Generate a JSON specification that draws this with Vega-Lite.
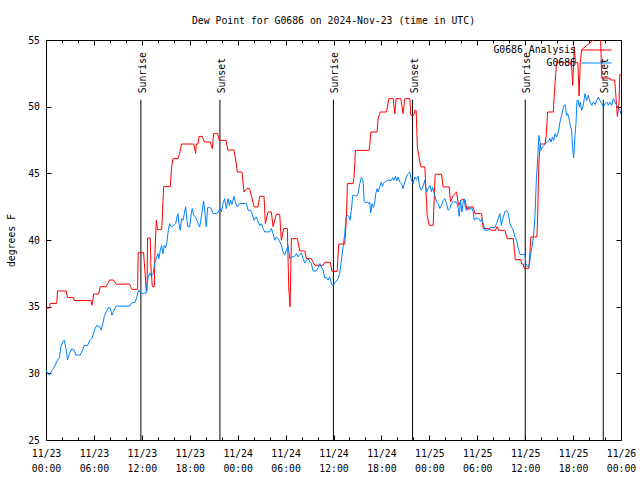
{
  "$schema": "https://vega.github.io/schema/vega-lite/v6.json",
  "width": 575,
  "height": 400,
  "autosize": {"type": "none"},
  "padding": {"left": 46, "top": 40, "right": 19, "bottom": 40},
  "background": "white",
  "config": {
    "view": {"stroke": "black", "strokeWidth": 1},
    "font": "DejaVu Sans Mono",
    "axis": {
      "domain": false,
      "grid": false,
      "ticks": true,
      "zindex": 1,
      "tickColor": "#000000",
      "tickOpacity": 1,
      "tickWidth": 1,
      "labelFont": "DejaVu Sans Mono",
      "labelFontSize": 9.8,
      "labelColor": "black",
      "titleFont": "DejaVu Sans Mono",
      "titleFontSize": 9.8,
      "titleFontWeight": "normal",
      "titleColor": "black"
    }
  },
  "title": {
    "text": "Dew Point for G0686 on 2024-Nov-23 (time in UTC)",
    "font": "DejaVu Sans Mono",
    "fontSize": 9.8,
    "fontWeight": "normal",
    "color": "black",
    "anchor": "middle",
    "offset": 1,
    "baseline": "alphabetic"
  },
  "datasets": {
    "analysis": [
      {"hours":0,"dewpoint":34.9},{"hours":0.45,"dewpoint":34.9},{"hours":0.52,"dewpoint":35.24},{"hours":1.35,"dewpoint":35.24},{"hours":1.44,"dewpoint":36.18},{"hours":2.53,"dewpoint":36.18},{"hours":2.7,"dewpoint":35.69},{"hours":3.45,"dewpoint":35.69},{"hours":3.53,"dewpoint":35.46},{"hours":5.62,"dewpoint":35.46},{"hours":5.79,"dewpoint":35.1},{"hours":5.95,"dewpoint":35.94},{"hours":6.58,"dewpoint":35.94},{"hours":6.79,"dewpoint":36.5},{"hours":7.54,"dewpoint":36.5},{"hours":7.96,"dewpoint":37.0},{"hours":8.46,"dewpoint":37.0},{"hours":8.79,"dewpoint":36.68},{"hours":10.46,"dewpoint":36.7},{"hours":10.76,"dewpoint":36.3},{"hours":11.47,"dewpoint":36.3},{"hours":11.55,"dewpoint":39.05},{"hours":12.22,"dewpoint":39.05},{"hours":12.3,"dewpoint":38.36},{"hours":12.47,"dewpoint":37.0},{"hours":12.55,"dewpoint":36.2},{"hours":12.65,"dewpoint":36.2},{"hours":12.72,"dewpoint":40.15},{"hours":13.05,"dewpoint":40.15},{"hours":13.14,"dewpoint":38.0},{"hours":13.31,"dewpoint":36.5},{"hours":13.56,"dewpoint":36.5},{"hours":13.64,"dewpoint":39.0},{"hours":13.81,"dewpoint":41.48},{"hours":13.97,"dewpoint":40.78},{"hours":14.48,"dewpoint":40.78},{"hours":14.56,"dewpoint":41.6},{"hours":14.73,"dewpoint":44.0},{"hours":15.56,"dewpoint":44.0},{"hours":15.73,"dewpoint":45.47},{"hours":15.9,"dewpoint":46.1},{"hours":16.52,"dewpoint":46.1},{"hours":16.73,"dewpoint":46.5},{"hours":16.98,"dewpoint":47.2},{"hours":18.49,"dewpoint":47.2},{"hours":18.74,"dewpoint":46.5},{"hours":18.82,"dewpoint":47.2},{"hours":19.03,"dewpoint":47.2},{"hours":19.15,"dewpoint":47.77},{"hours":19.57,"dewpoint":47.77},{"hours":19.82,"dewpoint":47.35},{"hours":20.57,"dewpoint":47.35},{"hours":20.83,"dewpoint":46.85},{"hours":20.99,"dewpoint":48.0},{"hours":21.49,"dewpoint":48.0},{"hours":21.7,"dewpoint":47.47},{"hours":22.55,"dewpoint":47.47},{"hours":22.75,"dewpoint":46.75},{"hours":23.54,"dewpoint":46.75},{"hours":23.79,"dewpoint":45.85},{"hours":23.96,"dewpoint":45.1},{"hours":24.54,"dewpoint":45.1},{"hours":24.79,"dewpoint":43.6},{"hours":25.13,"dewpoint":43.85},{"hours":25.5,"dewpoint":43.85},{"hours":25.71,"dewpoint":43.35},{"hours":26.05,"dewpoint":42.48},{"hours":26.55,"dewpoint":42.48},{"hours":26.76,"dewpoint":43.28},{"hours":27.3,"dewpoint":43.28},{"hours":27.47,"dewpoint":41.23},{"hours":27.8,"dewpoint":42.1},{"hours":28.22,"dewpoint":42.1},{"hours":28.43,"dewpoint":41.0},{"hours":28.85,"dewpoint":41.93},{"hours":29.26,"dewpoint":41.93},{"hours":29.47,"dewpoint":39.98},{"hours":29.77,"dewpoint":40.86},{"hours":30.22,"dewpoint":40.86},{"hours":30.39,"dewpoint":36.5},{"hours":30.56,"dewpoint":34.99},{"hours":30.73,"dewpoint":40.1},{"hours":31.48,"dewpoint":40.1},{"hours":31.77,"dewpoint":39.18},{"hours":32.4,"dewpoint":39.18},{"hours":32.61,"dewpoint":38.6},{"hours":33.23,"dewpoint":38.6},{"hours":33.65,"dewpoint":38.1},{"hours":34.7,"dewpoint":38.1},{"hours":34.9,"dewpoint":38.33},{"hours":35.6,"dewpoint":38.33},{"hours":35.82,"dewpoint":37.64},{"hours":36.45,"dewpoint":37.64},{"hours":36.66,"dewpoint":39.7},{"hours":37.41,"dewpoint":39.7},{"hours":37.62,"dewpoint":41.73},{"hours":37.74,"dewpoint":44.23},{"hours":38.45,"dewpoint":44.23},{"hours":38.58,"dewpoint":44.72},{"hours":38.75,"dewpoint":46.72},{"hours":40.42,"dewpoint":46.72},{"hours":40.54,"dewpoint":47.1},{"hours":40.67,"dewpoint":48.1},{"hours":41.46,"dewpoint":48.1},{"hours":41.59,"dewpoint":49.1},{"hours":41.84,"dewpoint":49.6},{"hours":42.63,"dewpoint":49.6},{"hours":42.93,"dewpoint":50.6},{"hours":43.47,"dewpoint":50.6},{"hours":43.68,"dewpoint":49.47},{"hours":43.84,"dewpoint":50.6},{"hours":44.43,"dewpoint":50.6},{"hours":44.72,"dewpoint":49.47},{"hours":44.93,"dewpoint":50.6},{"hours":45.56,"dewpoint":50.6},{"hours":45.68,"dewpoint":49.35},{"hours":46.05,"dewpoint":49.35},{"hours":46.18,"dewpoint":49.72},{"hours":46.35,"dewpoint":49.72},{"hours":46.5,"dewpoint":47.0},{"hours":46.81,"dewpoint":45.85},{"hours":46.94,"dewpoint":45.48},{"hours":47.44,"dewpoint":45.48},{"hours":47.73,"dewpoint":41.85},{"hours":47.98,"dewpoint":41.1},{"hours":48.48,"dewpoint":41.1},{"hours":48.73,"dewpoint":44.93},{"hours":49.53,"dewpoint":44.93},{"hours":49.73,"dewpoint":43.98},{"hours":50.49,"dewpoint":43.98},{"hours":50.65,"dewpoint":42.85},{"hours":50.99,"dewpoint":43.35},{"hours":51.41,"dewpoint":43.6},{"hours":51.66,"dewpoint":42.6},{"hours":52.03,"dewpoint":43.03},{"hours":52.45,"dewpoint":43.03},{"hours":52.74,"dewpoint":42.23},{"hours":53.08,"dewpoint":42.48},{"hours":53.49,"dewpoint":42.48},{"hours":53.7,"dewpoint":41.98},{"hours":54.54,"dewpoint":41.98},{"hours":54.75,"dewpoint":40.86},{"hours":55.37,"dewpoint":40.86},{"hours":55.79,"dewpoint":40.73},{"hours":56.3,"dewpoint":40.73},{"hours":56.42,"dewpoint":40.98},{"hours":56.55,"dewpoint":40.98},{"hours":56.63,"dewpoint":40.73},{"hours":57.46,"dewpoint":40.73},{"hours":57.75,"dewpoint":40.11},{"hours":58.51,"dewpoint":40.11},{"hours":58.76,"dewpoint":38.53},{"hours":59.47,"dewpoint":38.53},{"hours":59.55,"dewpoint":38.2},{"hours":59.76,"dewpoint":38.2},{"hours":59.89,"dewpoint":37.88},{"hours":60.47,"dewpoint":37.88},{"hours":60.72,"dewpoint":40.23},{"hours":61.47,"dewpoint":40.23},{"hours":61.56,"dewpoint":41.73},{"hours":61.72,"dewpoint":45.85},{"hours":61.89,"dewpoint":47.2},{"hours":62.48,"dewpoint":47.2},{"hours":62.64,"dewpoint":47.84},{"hours":62.81,"dewpoint":49.6},{"hours":63.52,"dewpoint":49.6},{"hours":63.6,"dewpoint":50.47},{"hours":63.81,"dewpoint":52.35},{"hours":63.94,"dewpoint":53.34},{"hours":65.61,"dewpoint":53.34},{"hours":65.82,"dewpoint":52.97},{"hours":65.95,"dewpoint":51.6},{"hours":66.07,"dewpoint":53.3},{"hours":66.15,"dewpoint":54.5},{"hours":66.3,"dewpoint":53.3},{"hours":66.6,"dewpoint":53.3},{"hours":66.75,"dewpoint":50.8},{"hours":66.9,"dewpoint":53.3},{"hours":67.07,"dewpoint":54.27},{"hours":69.1,"dewpoint":55.3},{"hours":69.4,"dewpoint":55.8},{"hours":69.6,"dewpoint":52.14},{"hours":70.6,"dewpoint":52.14},{"hours":70.7,"dewpoint":52.0},{"hours":71.2,"dewpoint":52.0},{"hours":71.3,"dewpoint":51.27},{"hours":71.55,"dewpoint":49.27},{"hours":71.75,"dewpoint":50.27},{"hours":71.85,"dewpoint":52.4},{"hours":72.0,"dewpoint":52.4}
    ],
    "observed": [
      {"hours":0.02,"dewpoint":30.24},{"hours":0.19,"dewpoint":30.0},{"hours":0.44,"dewpoint":29.87},{"hours":0.61,"dewpoint":30.1},{"hours":0.86,"dewpoint":30.3},{"hours":1.15,"dewpoint":30.62},{"hours":1.44,"dewpoint":31.0},{"hours":1.69,"dewpoint":31.19},{"hours":1.86,"dewpoint":31.99},{"hours":2.11,"dewpoint":32.36},{"hours":2.28,"dewpoint":32.49},{"hours":2.53,"dewpoint":31.79},{"hours":2.69,"dewpoint":31.0},{"hours":2.94,"dewpoint":31.49},{"hours":3.24,"dewpoint":31.84},{"hours":3.53,"dewpoint":31.74},{"hours":3.74,"dewpoint":31.37},{"hours":4.28,"dewpoint":31.37},{"hours":4.62,"dewpoint":31.79},{"hours":4.78,"dewpoint":32.09},{"hours":5.2,"dewpoint":32.09},{"hours":5.45,"dewpoint":32.44},{"hours":5.74,"dewpoint":32.62},{"hours":5.95,"dewpoint":32.99},{"hours":6.16,"dewpoint":33.37},{"hours":6.37,"dewpoint":33.61},{"hours":6.71,"dewpoint":33.5},{"hours":6.91,"dewpoint":33.24},{"hours":7.12,"dewpoint":33.74},{"hours":7.29,"dewpoint":34.24},{"hours":7.54,"dewpoint":34.61},{"hours":7.83,"dewpoint":34.94},{"hours":8.04,"dewpoint":34.9},{"hours":8.25,"dewpoint":34.36},{"hours":8.54,"dewpoint":34.74},{"hours":8.79,"dewpoint":35.04},{"hours":10.46,"dewpoint":35.04},{"hours":10.76,"dewpoint":35.29},{"hours":11.17,"dewpoint":35.33},{"hours":11.38,"dewpoint":35.74},{"hours":11.59,"dewpoint":36.24},{"hours":11.89,"dewpoint":35.99},{"hours":12.55,"dewpoint":36.02},{"hours":12.64,"dewpoint":36.7},{"hours":12.81,"dewpoint":37.2},{"hours":12.97,"dewpoint":37.53},{"hours":13.18,"dewpoint":37.3},{"hours":13.39,"dewpoint":37.4},{"hours":13.6,"dewpoint":38.23},{"hours":13.81,"dewpoint":38.6},{"hours":14.02,"dewpoint":38.98},{"hours":14.14,"dewpoint":38.6},{"hours":14.31,"dewpoint":39.23},{"hours":14.48,"dewpoint":39.6},{"hours":14.64,"dewpoint":38.98},{"hours":14.81,"dewpoint":39.6},{"hours":14.98,"dewpoint":39.4},{"hours":15.15,"dewpoint":39.86},{"hours":15.31,"dewpoint":40.73},{"hours":15.48,"dewpoint":41.23},{"hours":15.69,"dewpoint":41.0},{"hours":15.9,"dewpoint":41.05},{"hours":16.23,"dewpoint":41.23},{"hours":16.4,"dewpoint":41.73},{"hours":16.52,"dewpoint":41.98},{"hours":16.65,"dewpoint":41.23},{"hours":16.82,"dewpoint":40.73},{"hours":16.98,"dewpoint":41.6},{"hours":17.15,"dewpoint":41.48},{"hours":17.32,"dewpoint":41.98},{"hours":17.48,"dewpoint":42.48},{"hours":17.65,"dewpoint":41.48},{"hours":17.78,"dewpoint":40.98},{"hours":17.99,"dewpoint":40.98},{"hours":18.19,"dewpoint":41.98},{"hours":18.32,"dewpoint":42.36},{"hours":18.49,"dewpoint":41.86},{"hours":18.74,"dewpoint":41.73},{"hours":18.9,"dewpoint":41.48},{"hours":19.07,"dewpoint":41.23},{"hours":19.24,"dewpoint":40.98},{"hours":19.45,"dewpoint":41.73},{"hours":19.57,"dewpoint":42.23},{"hours":19.74,"dewpoint":42.93},{"hours":19.91,"dewpoint":41.98},{"hours":20.07,"dewpoint":40.98},{"hours":20.24,"dewpoint":42.43},{"hours":20.49,"dewpoint":42.43},{"hours":20.7,"dewpoint":42.36},{"hours":20.91,"dewpoint":41.98},{"hours":21.41,"dewpoint":41.98},{"hours":21.66,"dewpoint":42.23},{"hours":21.83,"dewpoint":42.36},{"hours":21.96,"dewpoint":42.1},{"hours":22.16,"dewpoint":42.73},{"hours":22.37,"dewpoint":43.1},{"hours":22.58,"dewpoint":42.36},{"hours":22.79,"dewpoint":43.1},{"hours":22.96,"dewpoint":42.6},{"hours":23.13,"dewpoint":42.98},{"hours":23.29,"dewpoint":42.68},{"hours":23.54,"dewpoint":43.28},{"hours":23.71,"dewpoint":42.85},{"hours":23.96,"dewpoint":42.48},{"hours":24.25,"dewpoint":42.73},{"hours":25.09,"dewpoint":42.73},{"hours":25.3,"dewpoint":42.23},{"hours":25.63,"dewpoint":42.23},{"hours":25.8,"dewpoint":41.98},{"hours":26.05,"dewpoint":41.48},{"hours":26.34,"dewpoint":41.73},{"hours":26.55,"dewpoint":41.36},{"hours":26.76,"dewpoint":41.1},{"hours":26.97,"dewpoint":41.23},{"hours":27.18,"dewpoint":40.86},{"hours":27.39,"dewpoint":40.61},{"hours":28.01,"dewpoint":40.61},{"hours":28.22,"dewpoint":40.86},{"hours":28.43,"dewpoint":40.48},{"hours":28.64,"dewpoint":39.98},{"hours":28.85,"dewpoint":40.23},{"hours":29.06,"dewpoint":40.11},{"hours":29.27,"dewpoint":39.86},{"hours":29.47,"dewpoint":39.6},{"hours":29.68,"dewpoint":39.1},{"hours":29.89,"dewpoint":38.86},{"hours":30.1,"dewpoint":39.23},{"hours":30.31,"dewpoint":39.6},{"hours":30.52,"dewpoint":38.6},{"hours":30.73,"dewpoint":38.73},{"hours":30.94,"dewpoint":38.73},{"hours":31.15,"dewpoint":38.78},{"hours":31.35,"dewpoint":38.98},{"hours":31.56,"dewpoint":38.73},{"hours":31.77,"dewpoint":38.93},{"hours":31.98,"dewpoint":39.03},{"hours":32.19,"dewpoint":38.6},{"hours":32.4,"dewpoint":38.28},{"hours":32.61,"dewpoint":38.48},{"hours":32.82,"dewpoint":38.6},{"hours":33.03,"dewpoint":38.36},{"hours":33.23,"dewpoint":38.23},{"hours":33.44,"dewpoint":37.68},{"hours":33.86,"dewpoint":37.68},{"hours":34.07,"dewpoint":37.93},{"hours":34.28,"dewpoint":38.23},{"hours":34.49,"dewpoint":37.98},{"hours":34.7,"dewpoint":37.73},{"hours":34.9,"dewpoint":37.15},{"hours":35.11,"dewpoint":37.2},{"hours":35.32,"dewpoint":37.0},{"hours":35.53,"dewpoint":37.23},{"hours":35.74,"dewpoint":36.69},{"hours":35.94,"dewpoint":36.55},{"hours":36.15,"dewpoint":36.8},{"hours":36.36,"dewpoint":36.9},{"hours":36.57,"dewpoint":37.1},{"hours":36.78,"dewpoint":37.5},{"hours":36.99,"dewpoint":38.48},{"hours":37.2,"dewpoint":39.48},{"hours":37.41,"dewpoint":40.48},{"hours":37.57,"dewpoint":41.73},{"hours":37.74,"dewpoint":41.85},{"hours":37.91,"dewpoint":41.78},{"hours":38.07,"dewpoint":41.48},{"hours":38.24,"dewpoint":42.23},{"hours":38.41,"dewpoint":43.35},{"hours":38.66,"dewpoint":43.35},{"hours":38.87,"dewpoint":43.28},{"hours":39.08,"dewpoint":43.48},{"hours":39.29,"dewpoint":44.23},{"hours":39.49,"dewpoint":44.68},{"hours":39.7,"dewpoint":44.48},{"hours":39.83,"dewpoint":42.98},{"hours":40.0,"dewpoint":42.78},{"hours":40.25,"dewpoint":42.85},{"hours":40.41,"dewpoint":42.73},{"hours":40.54,"dewpoint":42.85},{"hours":40.66,"dewpoint":42.03},{"hours":40.83,"dewpoint":42.73},{"hours":41.0,"dewpoint":42.43},{"hours":41.17,"dewpoint":42.85},{"hours":41.29,"dewpoint":43.48},{"hours":41.46,"dewpoint":43.85},{"hours":41.58,"dewpoint":43.6},{"hours":41.79,"dewpoint":43.98},{"hours":42.0,"dewpoint":44.35},{"hours":42.13,"dewpoint":44.03},{"hours":42.25,"dewpoint":44.23},{"hours":42.42,"dewpoint":44.35},{"hours":42.84,"dewpoint":44.48},{"hours":43.25,"dewpoint":44.48},{"hours":43.42,"dewpoint":44.68},{"hours":43.59,"dewpoint":44.48},{"hours":43.76,"dewpoint":44.78},{"hours":43.92,"dewpoint":44.43},{"hours":44.09,"dewpoint":44.73},{"hours":44.3,"dewpoint":44.35},{"hours":44.51,"dewpoint":44.23},{"hours":44.72,"dewpoint":43.85},{"hours":44.93,"dewpoint":44.35},{"hours":45.13,"dewpoint":44.73},{"hours":45.34,"dewpoint":44.98},{"hours":45.55,"dewpoint":45.1},{"hours":45.76,"dewpoint":44.48},{"hours":45.97,"dewpoint":44.23},{"hours":46.18,"dewpoint":44.73},{"hours":46.39,"dewpoint":44.53},{"hours":46.6,"dewpoint":44.78},{"hours":46.8,"dewpoint":43.98},{"hours":47.01,"dewpoint":43.73},{"hours":47.22,"dewpoint":44.03},{"hours":47.43,"dewpoint":44.48},{"hours":47.64,"dewpoint":43.6},{"hours":47.85,"dewpoint":43.85},{"hours":48.07,"dewpoint":44.1},{"hours":48.28,"dewpoint":43.6},{"hours":48.4,"dewpoint":43.98},{"hours":48.57,"dewpoint":43.6},{"hours":48.73,"dewpoint":43.23},{"hours":48.9,"dewpoint":42.85},{"hours":49.11,"dewpoint":42.73},{"hours":49.32,"dewpoint":42.36},{"hours":49.53,"dewpoint":42.6},{"hours":49.74,"dewpoint":42.98},{"hours":49.95,"dewpoint":43.1},{"hours":50.15,"dewpoint":42.73},{"hours":50.36,"dewpoint":42.23},{"hours":50.57,"dewpoint":42.36},{"hours":50.78,"dewpoint":42.78},{"hours":50.99,"dewpoint":42.85},{"hours":51.41,"dewpoint":42.85},{"hours":51.62,"dewpoint":42.43},{"hours":51.74,"dewpoint":41.78},{"hours":51.91,"dewpoint":42.98},{"hours":52.08,"dewpoint":42.1},{"hours":52.24,"dewpoint":42.85},{"hours":52.37,"dewpoint":43.1},{"hours":52.49,"dewpoint":42.48},{"hours":52.66,"dewpoint":42.23},{"hours":52.87,"dewpoint":42.53},{"hours":53.08,"dewpoint":42.28},{"hours":53.29,"dewpoint":42.43},{"hours":53.5,"dewpoint":42.1},{"hours":53.62,"dewpoint":41.48},{"hours":53.83,"dewpoint":41.68},{"hours":54.0,"dewpoint":41.6},{"hours":54.21,"dewpoint":41.6},{"hours":54.42,"dewpoint":41.36},{"hours":54.58,"dewpoint":41.6},{"hours":54.75,"dewpoint":41.23},{"hours":54.96,"dewpoint":40.73},{"hours":55.38,"dewpoint":40.73},{"hours":55.59,"dewpoint":40.93},{"hours":56.21,"dewpoint":40.93},{"hours":56.42,"dewpoint":41.23},{"hours":56.63,"dewpoint":41.6},{"hours":56.84,"dewpoint":41.98},{"hours":57.01,"dewpoint":41.1},{"hours":57.26,"dewpoint":41.73},{"hours":57.46,"dewpoint":42.1},{"hours":57.67,"dewpoint":42.23},{"hours":57.88,"dewpoint":41.98},{"hours":58.09,"dewpoint":41.23},{"hours":58.3,"dewpoint":40.98},{"hours":58.51,"dewpoint":40.73},{"hours":58.72,"dewpoint":40.2},{"hours":58.93,"dewpoint":40.0},{"hours":59.14,"dewpoint":39.36},{"hours":59.35,"dewpoint":38.92},{"hours":59.97,"dewpoint":38.92},{"hours":60.1,"dewpoint":38.23},{"hours":60.26,"dewpoint":38.03},{"hours":60.39,"dewpoint":37.98},{"hours":60.56,"dewpoint":38.3},{"hours":60.73,"dewpoint":39.1},{"hours":60.89,"dewpoint":39.6},{"hours":61.06,"dewpoint":40.36},{"hours":61.23,"dewpoint":41.85},{"hours":61.39,"dewpoint":44.35},{"hours":61.56,"dewpoint":46.1},{"hours":61.73,"dewpoint":47.85},{"hours":61.85,"dewpoint":47.35},{"hours":61.98,"dewpoint":46.72},{"hours":62.15,"dewpoint":46.97},{"hours":62.4,"dewpoint":47.1},{"hours":62.65,"dewpoint":47.3},{"hours":62.9,"dewpoint":47.4},{"hours":63.11,"dewpoint":47.6},{"hours":63.23,"dewpoint":47.35},{"hours":63.4,"dewpoint":47.72},{"hours":63.57,"dewpoint":47.47},{"hours":63.73,"dewpoint":47.97},{"hours":63.94,"dewpoint":47.72},{"hours":64.15,"dewpoint":48.1},{"hours":64.36,"dewpoint":48.85},{"hours":64.57,"dewpoint":49.35},{"hours":64.78,"dewpoint":49.97},{"hours":64.99,"dewpoint":50.15},{"hours":65.19,"dewpoint":49.35},{"hours":65.32,"dewpoint":49.47},{"hours":65.49,"dewpoint":49.1},{"hours":65.65,"dewpoint":48.6},{"hours":65.82,"dewpoint":48.22},{"hours":65.95,"dewpoint":46.85},{"hours":66.07,"dewpoint":46.15},{"hours":66.24,"dewpoint":47.85},{"hours":66.36,"dewpoint":48.72},{"hours":66.49,"dewpoint":50.47},{"hours":66.66,"dewpoint":50.47},{"hours":66.78,"dewpoint":49.97},{"hours":66.91,"dewpoint":50.35},{"hours":67.07,"dewpoint":49.72},{"hours":67.28,"dewpoint":50.1},{"hours":67.49,"dewpoint":50.97},{"hours":67.7,"dewpoint":50.47},{"hours":67.91,"dewpoint":50.85},{"hours":68.12,"dewpoint":50.35},{"hours":68.33,"dewpoint":50.1},{"hours":68.54,"dewpoint":50.35},{"hours":68.75,"dewpoint":50.15},{"hours":68.95,"dewpoint":50.47},{"hours":69.16,"dewpoint":50.72},{"hours":69.37,"dewpoint":50.47},{"hours":69.58,"dewpoint":50.22},{"hours":69.79,"dewpoint":49.97},{"hours":70.0,"dewpoint":50.22},{"hours":70.21,"dewpoint":50.35},{"hours":70.42,"dewpoint":50.1},{"hours":70.62,"dewpoint":50.35},{"hours":70.83,"dewpoint":50.1},{"hours":71.04,"dewpoint":50.6},{"hours":71.25,"dewpoint":50.35},{"hours":71.46,"dewpoint":50.1},{"hours":71.67,"dewpoint":49.9},{"hours":71.88,"dewpoint":49.72},{"hours":72.0,"dewpoint":49.4}
    ],
    "sun": [
      {"event":"Sunrise","hours":11.88},{"event":"Sunset","hours":21.78},{"event":"Sunrise","hours":35.99},{"event":"Sunset","hours":45.9},{"event":"Sunrise","hours":60.01},{"event":"Sunset","hours":69.78}
    ]
  },
  "layer": [
    {
      "data": {"name": "sun"},
      "mark": {"type": "rule", "color": "black", "strokeWidth": 1},
      "encoding": {
        "x": {"field": "hours", "type": "quantitative", "scale": {"domain": [0, 72], "nice": false, "zero": false}, "axis": null},
        "y": {"datum": 25, "type": "quantitative", "scale": {"domain": [25, 55], "nice": false, "zero": false}, "axis": null},
        "y2": {"datum": 50.52}
      }
    },
    {
      "data": {"name": "sun"},
      "mark": {"type": "text", "angle": 270, "align": "left", "baseline": "alphabetic", "dy": 5, "font": "DejaVu Sans Mono", "fontSize": 9.8, "color": "black"},
      "encoding": {
        "x": {"field": "hours", "type": "quantitative", "axis": null},
        "y": {"datum": 51.0, "type": "quantitative", "axis": null},
        "text": {"field": "event"}
      }
    },
    {
      "data": {"name": "analysis"},
      "mark": {"type": "line", "strokeWidth": 1, "clip": true},
      "encoding": {
        "x": {
          "field": "hours", "type": "quantitative",
          "scale": {"domain": [0, 72], "nice": false, "zero": false},
          "axis": {
            "orient": "bottom", "title": null,
            "values": [0,2,4,6,8,10,12,14,16,18,20,22,24,26,28,30,32,34,36,38,40,42,44,46,48,50,52,54,56,58,60,62,64,66,68,70,72],
            "tickSize": {"condition": {"test": "datum.value % 6 === 0", "value": -5}, "value": -3},
            "labelExpr": "datum.value % 6 === 0 ? ['11/' + (23 + floor(datum.value / 24)), (datum.value % 24 < 10 ? '0' : '') + (datum.value % 24) + ':00'] : ''",
            "labelPadding": 13, "labelOverlap": false, "labelFlush": false, "labelBound": false,
            "labelLineHeight": 15, "labelBaseline": "top", "labelAlign": "center"
          }
        },
        "y": {
          "field": "dewpoint", "type": "quantitative",
          "scale": {"domain": [25, 55], "nice": false, "zero": false},
          "axis": {
            "orient": "left", "title": "degrees F",
            "values": [25,30,35,40,45,50,55],
            "tickSize": -5, "labelPadding": 11.5,
            "titleX": -35, "titleY": 200, "titleAngle": 270, "titleAlign": "center", "titleBaseline": "middle"
          }
        },
        "color": {
          "datum": "G0686 Analysis",
          "scale": {"domain": ["G0686 Analysis", "G0686"], "range": ["#ff0000", "#0080ff"]},
          "legend": {
            "orient": "none", "legendX": 544, "legendY": 3.5, "title": null,
            "symbolType": "M-2.5,0L2.5,0", "symbolSize": 144, "symbolStrokeWidth": 1,
            "labelAlign": "right", "labelOffset": -27,
            "labelFont": "DejaVu Sans Mono", "labelFontSize": 9.8, "labelColor": "black",
            "rowPadding": 1, "padding": 0
          }
        }
      }
    },
    {
      "data": {"name": "observed"},
      "mark": {"type": "line", "strokeWidth": 1, "clip": true},
      "encoding": {
        "x": {
          "field": "hours", "type": "quantitative",
          "axis": {
            "orient": "top", "title": null, "labels": false,
            "values": [0,2,4,6,8,10,12,14,16,18,20,22,24,26,28,30,32,34,36,38,40,42,44,46,48,50,52,54,56,58,60,62,64,66,68,70,72],
            "tickSize": {"condition": {"test": "datum.value % 6 === 0", "value": -5}, "value": -3}
          }
        },
        "y": {
          "field": "dewpoint", "type": "quantitative",
          "axis": {"orient": "right", "title": null, "labels": false, "values": [25,30,35,40,45,50,55], "tickSize": -5}
        },
        "color": {"datum": "G0686"}
      }
    }
  ],
  "resolve": {"axis": {"x": "independent", "y": "independent"}}
}
